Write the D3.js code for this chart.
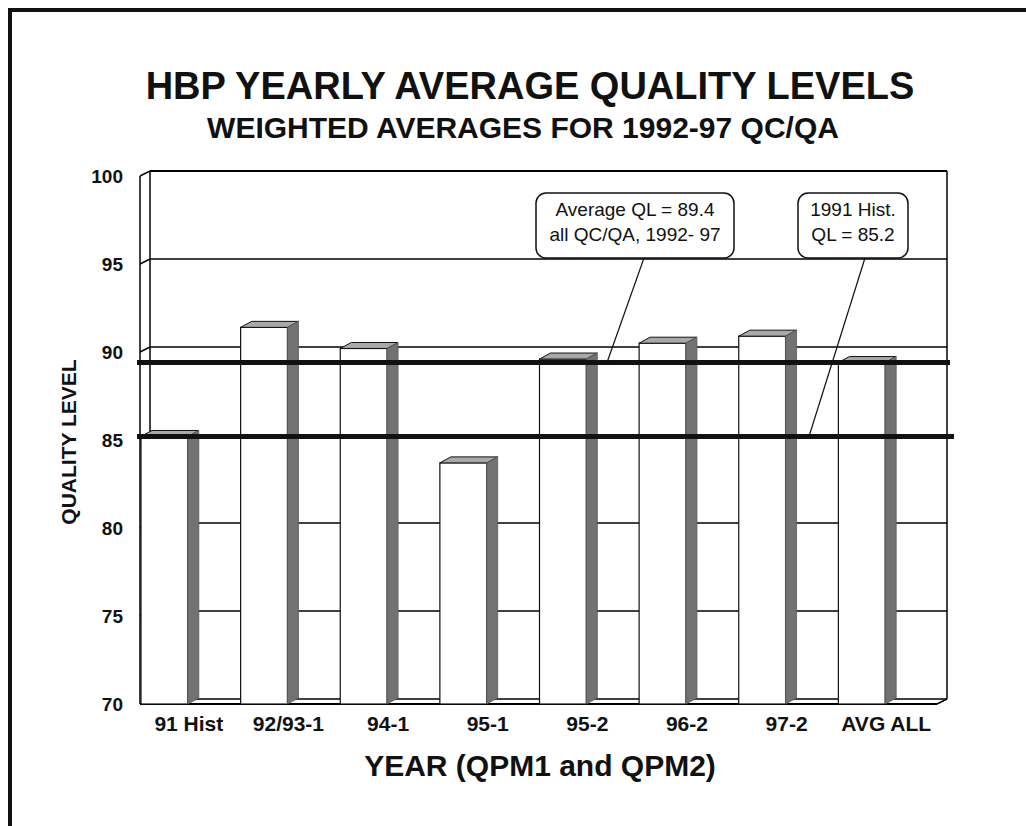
<!DOCTYPE html>
<html>
<head>
<meta charset="utf-8">
<script src="https://cdn.jsdelivr.net/npm/d3@7"></script>
<style>
    body { margin: 0; background: #fff; }
    svg text { font-family: "Liberation Sans", Arial, sans-serif; fill: #111; }
    .chart-title { font-size: 38px; font-weight: bold; text-anchor: middle; }
    .chart-subtitle { font-size: 30px; font-weight: bold; text-anchor: middle; }
    .axis-label { font-size: 19px; font-weight: bold; }
    .cat-label { font-size: 21px; font-weight: bold; text-anchor: middle; }
    .axis-title { font-size: 21px; font-weight: bold; text-anchor: middle; }
    .x-title { font-size: 30px; font-weight: bold; text-anchor: middle; }
    .note-text { font-size: 19px; text-anchor: middle; }
</style>
</head>
<body>
<div id="chart"></div>
<script>
// Chart data
const categories = ["91 Hist", "92/93-1", "94-1", "95-1", "95-2", "96-2", "97-2", "AVG ALL"];
const qualityLevels = [85.2, 91.4, 90.2, 83.7, 89.6, 90.5, 90.9, 89.4];
const yTicks = [70, 75, 80, 85, 90, 95, 100];
const refValues = [89.4, 85.2];
const refNotes = [
    ["Average QL = 89.4", "all QC/QA, 1992- 97"],
    ["1991 Hist.", "QL = 85.2"]
];

function createQualityChart() {
    const width = 1026;
    const height = 826;

    // plot front plane and 3d offsets
    const left = 140, right = 937, bottom = 704, top = 176;
    const wallDx = 10, wallDy = 5;   // back wall offset
    const barDx = 11, barDy = 6;     // bar depth

    const svg = d3.select("#chart")
        .append("svg")
        .attr("width", width)
        .attr("height", height);

    // page frame (top and left edges only, like the scan)
    svg.append("rect").attr("x", 8).attr("y", 8).attr("width", width - 8).attr("height", 4).attr("fill", "#111");
    svg.append("rect").attr("x", 8).attr("y", 8).attr("width", 4).attr("height", height - 8).attr("fill", "#111");

    // titles
    svg.append("text").attr("class", "chart-title").attr("x", 530).attr("y", 99)
        .text("HBP YEARLY AVERAGE QUALITY LEVELS");
    svg.append("text").attr("class", "chart-subtitle").attr("x", 523).attr("y", 138)
        .text("WEIGHTED AVERAGES FOR 1992-97 QC/QA");

    const x = d3.scaleBand()
        .domain(categories)
        .range([left, right])
        .padding(0);

    const y = d3.scaleLinear()
        .domain([70, 100])
        .range([bottom, top]);

    const bw = x.bandwidth();
    const barW = bw * 0.47;

    // back wall gridlines
    const wall = svg.append("g").attr("stroke", "#000").attr("fill", "none");
    wall.selectAll("line.grid")
        .data(yTicks)
        .enter()
        .append("line")
        .attr("class", "grid")
        .attr("x1", left + wallDx)
        .attr("x2", right + wallDx)
        .attr("y1", d => y(d) - wallDy)
        .attr("y2", d => y(d) - wallDy)
        .attr("stroke-width", d => d === 100 ? 2 : 1.5);

    // side wall gridlines (little diagonals)
    wall.selectAll("line.side")
        .data(yTicks)
        .enter()
        .append("line")
        .attr("class", "side")
        .attr("x1", left)
        .attr("x2", left + wallDx)
        .attr("y1", d => y(d))
        .attr("y2", d => y(d) - wallDy)
        .attr("stroke-width", 1.5);

    // wall edges
    wall.append("line").attr("x1", left + wallDx).attr("x2", left + wallDx)
        .attr("y1", y(100) - wallDy).attr("y2", y(70) - wallDy).attr("stroke-width", 1.5);
    wall.append("line").attr("x1", right + wallDx).attr("x2", right + wallDx)
        .attr("y1", y(100) - wallDy).attr("y2", y(70) - wallDy).attr("stroke-width", 1.5);
    wall.append("line").attr("x1", left).attr("x2", left)
        .attr("y1", y(100)).attr("y2", y(70)).attr("stroke-width", 1.5);

    // floor front edge
    wall.append("line").attr("x1", left).attr("x2", right)
        .attr("y1", y(70)).attr("y2", y(70)).attr("stroke-width", 1.8);
    wall.append("line").attr("x1", right).attr("x2", right + wallDx)
        .attr("y1", y(70)).attr("y2", y(70) - wallDy).attr("stroke-width", 1.5);

    const data = categories.map((c, i) => ({ cat: c, value: qualityLevels[i] }));

    // bar front faces
    const bars = svg.append("g");
    bars.selectAll("rect.front")
        .data(data)
        .enter()
        .append("rect")
        .attr("class", "front")
        .attr("x", d => x(d.cat) + 1)
        .attr("y", d => y(d.value))
        .attr("width", barW)
        .attr("height", d => y(70) - y(d.value))
        .attr("fill", "#fff")
        .attr("stroke", "#111")
        .attr("stroke-width", 1.2);

    // bar top faces
    bars.selectAll("path.top")
        .data(data)
        .enter()
        .append("path")
        .attr("class", "top")
        .attr("d", d => {
            const x0 = x(d.cat) + 1, y0 = y(d.value);
            return `M${x0},${y0}L${x0 + barDx},${y0 - barDy}L${x0 + barW + barDx},${y0 - barDy}L${x0 + barW},${y0}Z`;
        })
        .attr("fill", "#a9a9a9")
        .attr("stroke", "#111")
        .attr("stroke-width", 1);

    // reference lines (average and 1991 historic)
    svg.selectAll("line.ref")
        .data(refValues)
        .enter()
        .append("line")
        .attr("class", "ref")
        .attr("x1", left - 3)
        .attr("x2", (d, i) => right + wallDx + 3 + i * 4)
        .attr("y1", d => y(d))
        .attr("y2", d => y(d))
        .attr("stroke", "#111")
        .attr("stroke-width", 5);

    // bar side faces (drawn over the reference lines)
    bars.selectAll("path.side")
        .data(data)
        .enter()
        .append("path")
        .attr("class", "side")
        .attr("d", d => {
            const x0 = x(d.cat) + 1 + barW, y0 = y(d.value), yb = y(70);
            return `M${x0},${y0}L${x0 + barDx},${y0 - barDy}L${x0 + barDx},${yb - barDy}L${x0},${yb}Z`;
        })
        .attr("fill", "#727272")
        .attr("stroke", "#5a5a5a")
        .attr("stroke-width", 0.8);

    // y axis tick labels
    svg.selectAll("text.ytick")
        .data(yTicks)
        .enter()
        .append("text")
        .attr("class", "axis-label")
        .attr("x", 123)
        .attr("y", d => y(d))
        .attr("dy", "0.35em")
        .attr("text-anchor", "end")
        .text(d => d);

    // x axis category labels
    svg.selectAll("text.xtick")
        .data(categories)
        .enter()
        .append("text")
        .attr("class", "cat-label")
        .attr("x", d => x(d) + bw / 2 - 1)
        .attr("y", 731)
        .text(d => d);

    // axis titles
    svg.append("text")
        .attr("class", "axis-title")
        .attr("transform", "rotate(-90)")
        .attr("x", -442)
        .attr("y", 76)
        .text("QUALITY LEVEL");

    svg.append("text")
        .attr("class", "x-title")
        .attr("x", 540)
        .attr("y", 776)
        .text("YEAR (QPM1 and QPM2)");

    // callout boxes with leader lines
    const boxes = [
        { x: 536, w: 198, tipX: 607, anchorX: 644 },
        { x: 798, w: 110, tipX: 809, anchorX: 865 }
    ];
    const boxTop = 193, boxH = 65;

    const notes = svg.append("g");
    boxes.forEach((b, i) => {
        notes.append("line")
            .attr("x1", b.anchorX)
            .attr("y1", boxTop + boxH)
            .attr("x2", b.tipX)
            .attr("y2", y(refValues[i]))
            .attr("stroke", "#111")
            .attr("stroke-width", 1.2);

        notes.append("rect")
            .attr("x", b.x)
            .attr("y", boxTop)
            .attr("width", b.w)
            .attr("height", boxH)
            .attr("rx", 10)
            .attr("fill", "#fff")
            .attr("stroke", "#111")
            .attr("stroke-width", 1.5);

        notes.selectAll(null)
            .data(refNotes[i])
            .enter()
            .append("text")
            .attr("class", "note-text")
            .attr("x", b.x + b.w / 2)
            .attr("y", (d, j) => 216 + j * 25)
            .text(d => d);
    });
}

createQualityChart();
</script>
</body>
</html>
